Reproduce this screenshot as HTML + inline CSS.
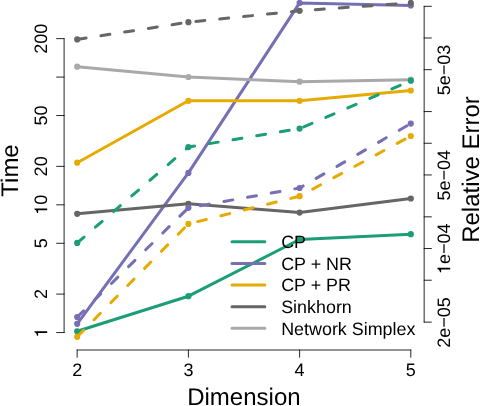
<!DOCTYPE html>
<html><head><meta charset="utf-8"><title>plot</title>
<style>
html,body{margin:0;padding:0;background:#fff;}
body{width:480px;height:406px;overflow:hidden;}
svg{display:block;will-change:transform;}
text{font-family:"Liberation Sans",sans-serif;fill:#000;text-rendering:geometricPrecision;}
.t{font-size:18px;}
.l{font-size:24px;}
.g{font-size:17.9px;}
.ax{stroke:#000;stroke-width:0.85;fill:none;stroke-linecap:round;}
</style></head><body>
<svg width="480" height="406" viewBox="0 0 480 406">
<rect width="480" height="406" fill="#fff"/>

<polyline points="77.2,331.3 188.4,296.2 299.6,239.5 410.8,234.2" fill="none" stroke="#1b9e77" stroke-width="3.0" stroke-linecap="round" stroke-linejoin="round"/>
<circle cx="77.2" cy="331.3" r="3.1" fill="#1b9e77"/>
<circle cx="188.4" cy="296.2" r="3.1" fill="#1b9e77"/>
<circle cx="299.6" cy="239.5" r="3.1" fill="#1b9e77"/>
<circle cx="410.8" cy="234.2" r="3.1" fill="#1b9e77"/>
<polyline points="77.2,323.8 188.4,172.9 299.6,2.9 410.8,5.5" fill="none" stroke="#7570b3" stroke-width="3.0" stroke-linecap="round" stroke-linejoin="round"/>
<circle cx="77.2" cy="323.8" r="3.1" fill="#7570b3"/>
<circle cx="188.4" cy="172.9" r="3.1" fill="#7570b3"/>
<circle cx="299.6" cy="2.9" r="3.1" fill="#7570b3"/>
<circle cx="410.8" cy="5.5" r="3.1" fill="#7570b3"/>
<polyline points="77.2,162.7 188.4,100.8 299.6,100.8 410.8,90.5" fill="none" stroke="#e6ab02" stroke-width="3.0" stroke-linecap="round" stroke-linejoin="round"/>
<circle cx="77.2" cy="162.7" r="3.1" fill="#e6ab02"/>
<circle cx="188.4" cy="100.8" r="3.1" fill="#e6ab02"/>
<circle cx="299.6" cy="100.8" r="3.1" fill="#e6ab02"/>
<circle cx="410.8" cy="90.5" r="3.1" fill="#e6ab02"/>
<polyline points="77.2,213.8 188.4,203.8 299.6,212.6 410.8,198.5" fill="none" stroke="#666666" stroke-width="3.0" stroke-linecap="round" stroke-linejoin="round"/>
<circle cx="77.2" cy="213.8" r="3.1" fill="#666666"/>
<circle cx="188.4" cy="203.8" r="3.1" fill="#666666"/>
<circle cx="299.6" cy="212.6" r="3.1" fill="#666666"/>
<circle cx="410.8" cy="198.5" r="3.1" fill="#666666"/>
<polyline points="77.2,66.7 188.4,77.0 299.6,81.7 410.8,79.7" fill="none" stroke="#a9a9a9" stroke-width="3.0" stroke-linecap="round" stroke-linejoin="round"/>
<circle cx="77.2" cy="66.7" r="3.1" fill="#a9a9a9"/>
<circle cx="188.4" cy="77.0" r="3.1" fill="#a9a9a9"/>
<circle cx="299.6" cy="81.7" r="3.1" fill="#a9a9a9"/>
<circle cx="410.8" cy="79.7" r="3.1" fill="#a9a9a9"/>
<polyline points="77.2,242.9 188.4,147.1 299.6,128.6 410.8,80.7" fill="none" stroke="#1b9e77" stroke-width="3.0" stroke-linecap="round" stroke-linejoin="round" stroke-dasharray="9 15"/>
<circle cx="77.2" cy="242.9" r="3.1" fill="#1b9e77"/>
<circle cx="188.4" cy="147.1" r="3.1" fill="#1b9e77"/>
<circle cx="299.6" cy="128.6" r="3.1" fill="#1b9e77"/>
<circle cx="410.8" cy="80.7" r="3.1" fill="#1b9e77"/>
<polyline points="77.2,317.1 188.4,207.8 299.6,188.0 410.8,123.6" fill="none" stroke="#7570b3" stroke-width="3.0" stroke-linecap="round" stroke-linejoin="round" stroke-dasharray="9 15"/>
<circle cx="77.2" cy="317.1" r="3.1" fill="#7570b3"/>
<circle cx="188.4" cy="207.8" r="3.1" fill="#7570b3"/>
<circle cx="299.6" cy="188.0" r="3.1" fill="#7570b3"/>
<circle cx="410.8" cy="123.6" r="3.1" fill="#7570b3"/>
<polyline points="77.2,336.8 188.4,223.9 299.6,196.2 410.8,136.0" fill="none" stroke="#e6ab02" stroke-width="3.0" stroke-linecap="round" stroke-linejoin="round" stroke-dasharray="9 15"/>
<circle cx="77.2" cy="336.8" r="3.1" fill="#e6ab02"/>
<circle cx="188.4" cy="223.9" r="3.1" fill="#e6ab02"/>
<circle cx="299.6" cy="196.2" r="3.1" fill="#e6ab02"/>
<circle cx="410.8" cy="136.0" r="3.1" fill="#e6ab02"/>
<polyline points="77.2,39.4 188.4,22.2 299.6,10.8 410.8,2.9" fill="none" stroke="#666666" stroke-width="3.0" stroke-linecap="round" stroke-linejoin="round" stroke-dasharray="9 15"/>
<circle cx="77.2" cy="39.4" r="3.1" fill="#666666"/>
<circle cx="188.4" cy="22.2" r="3.1" fill="#666666"/>
<circle cx="299.6" cy="10.8" r="3.1" fill="#666666"/>
<circle cx="410.8" cy="2.9" r="3.1" fill="#666666"/>
<path class="ax" d="M64.1,38.64V332.55M64.1,332.55H56.6M64.1,294.10H56.6M64.1,243.27H56.6M64.1,204.82H56.6M64.1,166.37H56.6M64.1,115.54H56.6M64.1,77.09H56.6M64.1,38.64H56.6"/>
<g transform="translate(47.20,332.55) rotate(-90)"><path d="M1.24,0 L-0.34,0 L-0.34,-9.09 L-3.17,-9.09 L-3.17,-10.22 C-1.32,-10.44 -0.29,-11.02 0.21,-12.76 L1.24,-12.76 Z" fill="#000"/></g>
<text class="t" text-anchor="middle" transform="translate(47.20,294.10) rotate(-90)">2</text>
<text class="t" text-anchor="middle" transform="translate(47.20,243.27) rotate(-90)">5</text>
<g transform="translate(47.20,204.82) rotate(-90)"><path d="M-3.76,0 L-5.35,0 L-5.35,-9.09 L-8.17,-9.09 L-8.17,-10.22 C-6.32,-10.44 -5.29,-11.02 -4.79,-12.76 L-3.76,-12.76 Z" fill="#000"/><text class="t" style="font-kerning:none" x="0.00" y="0">0</text></g>
<text class="t" text-anchor="middle" transform="translate(47.20,166.37) rotate(-90)">20</text>
<text class="t" text-anchor="middle" transform="translate(47.20,115.54) rotate(-90)">50</text>
<text class="t" text-anchor="middle" transform="translate(47.20,38.64) rotate(-90)">200</text>
<path class="ax" d="M77.15,350H410.8M77.15,350V357.25M188.4,350V357.25M299.6,350V357.25M410.8,350V357.25"/>
<text class="t" text-anchor="middle" x="77.15" y="376">2</text>
<text class="t" text-anchor="middle" x="188.4" y="376">3</text>
<text class="t" text-anchor="middle" x="299.6" y="376">4</text>
<text class="t" text-anchor="middle" x="410.8" y="376">5</text>
<path class="ax" d="M424.15,6.30V322.12M424.15,6.30H431.4M424.15,37.99H431.4M424.15,69.68H431.4M424.15,111.57H431.4M424.15,143.26H431.4M424.15,174.95H431.4M424.15,216.84H431.4M424.15,248.53H431.4M424.15,280.22H431.4M424.15,322.12H431.4"/>
<text class="t" text-anchor="middle" transform="translate(450.20,69.98) rotate(-90)">5e−03</text>
<text class="t" text-anchor="middle" transform="translate(450.20,175.25) rotate(-90)">5e−04</text>
<g transform="translate(450.20,248.83) rotate(-90)"><path d="M-19.03,0 L-20.62,0 L-20.62,-9.09 L-23.44,-9.09 L-23.44,-10.22 C-21.59,-10.44 -20.56,-11.02 -20.06,-12.76 L-19.03,-12.76 Z" fill="#000"/><text class="t" style="font-kerning:none" x="-15.27" y="0">e−04</text></g>
<text class="t" text-anchor="middle" transform="translate(450.20,322.42) rotate(-90)">2e−05</text>
<text class="l" text-anchor="middle" x="243.9" y="404.8">Dimension</text>
<text class="l" text-anchor="middle" transform="translate(18.4,170.5) rotate(-90)">Time</text>
<text class="l" text-anchor="middle" transform="translate(479,169.5) rotate(-90)">Relative Error</text>
<line x1="232" y1="241.8" x2="264.8" y2="241.8" stroke="#1b9e77" stroke-width="3.0" stroke-linecap="round"/>
<text class="g" x="281.2" y="248.20000000000002">CP</text>
<line x1="232" y1="263.43" x2="264.8" y2="263.43" stroke="#7570b3" stroke-width="3.0" stroke-linecap="round"/>
<text class="g" x="281.2" y="269.83">CP + NR</text>
<line x1="232" y1="285.05" x2="264.8" y2="285.05" stroke="#e6ab02" stroke-width="3.0" stroke-linecap="round"/>
<text class="g" x="281.2" y="291.45">CP + PR</text>
<line x1="232" y1="306.68" x2="264.8" y2="306.68" stroke="#666666" stroke-width="3.0" stroke-linecap="round"/>
<text class="g" x="281.2" y="313.08">Sinkhorn</text>
<line x1="232" y1="328.3" x2="264.8" y2="328.3" stroke="#a9a9a9" stroke-width="3.0" stroke-linecap="round"/>
<text class="g" x="281.2" y="334.7">Network Simplex</text>
</svg></body></html>
